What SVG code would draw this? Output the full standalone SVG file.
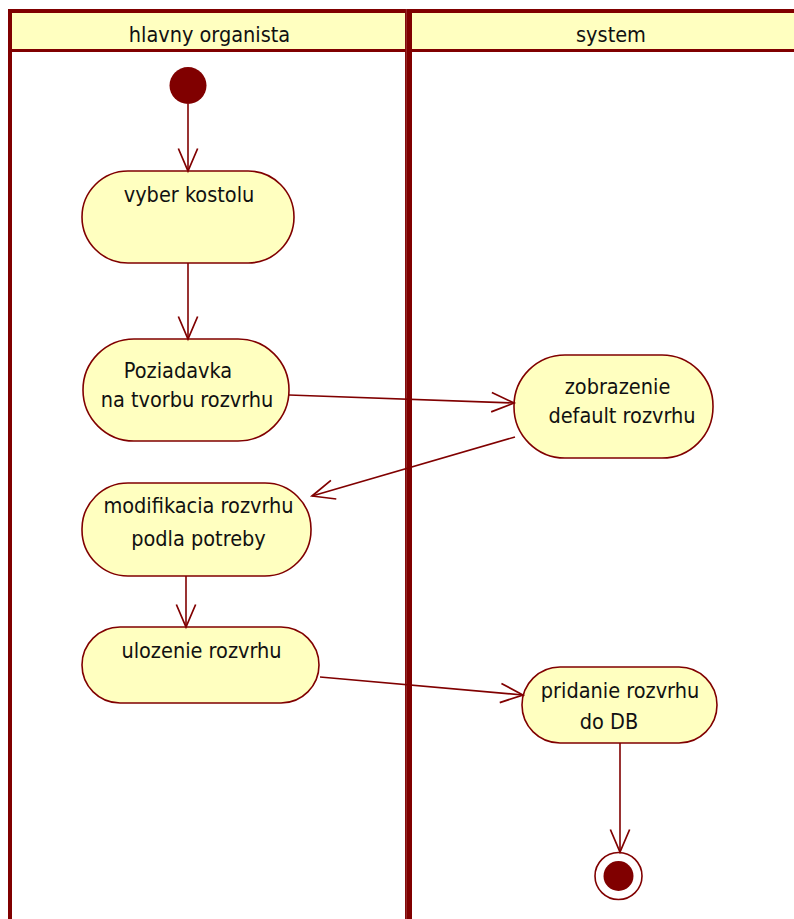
<svg xmlns="http://www.w3.org/2000/svg" width="794" height="919" viewBox="0 0 794 919">
<style>
.lane{stroke:#800000;fill:none}
.hdr{fill:#FFFFC0}
.node rect{fill:#FFFFC0;stroke:#800000;stroke-width:1.6}
text{font-family:"DejaVu Sans Condensed","DejaVu Sans",sans-serif;font-size:21.5px;fill:#111;text-anchor:middle}
.conn line{stroke:#800000;stroke-width:1.6;marker-end:url(#arr)}
</style>
<defs>
<marker id="arr" markerUnits="userSpaceOnUse" markerWidth="30" markerHeight="30" viewBox="-25 -12 28 24" refX="0" refY="0" orient="auto">
<path d="M-21,-9 L0,0 L-21,9" fill="none" stroke="#800000" stroke-width="1.6"/>
</marker>
</defs>
<rect width="794" height="919" fill="#fff"/>
<g id="lanes">
<rect class="hdr" x="10" y="13" width="790" height="36"/>
<line class="lane" x1="8" y1="11" x2="800" y2="11" stroke-width="4"/>
<line class="lane" x1="8" y1="50.5" x2="800" y2="50.5" stroke-width="3"/>
<line class="lane" x1="10" y1="9" x2="10" y2="919" stroke-width="4"/>
<line class="lane" x1="408.5" y1="9" x2="408.5" y2="919" stroke-width="7"/>
<line x1="406.3" y1="9" x2="406.3" y2="919" stroke="#a04040" stroke-width="0.8"/>
<text id="lane1" x="209.5" y="42">hlavny organista</text>
<text id="lane2" x="611" y="42">system</text>
</g>
<g id="start"><circle cx="188" cy="85.5" r="18.5" fill="#800000"/></g>
<g id="vyber" class="node"><rect x="82" y="171" width="212" height="92" rx="46"/><text x="189" y="202">vyber kostolu</text></g>
<g id="poziadavka" class="node"><rect x="83" y="339" width="206" height="102" rx="51"/><text x="178" y="378">Poziadavka</text><text x="187" y="407">na tvorbu rozvrhu</text></g>
<g id="zobrazenie" class="node"><rect x="514" y="355" width="199" height="103" rx="51"/><text x="617.5" y="394">zobrazenie</text><text x="622" y="423">default rozvrhu</text></g>
<g id="modifikacia" class="node"><rect x="82" y="483" width="229" height="93" rx="46"/><text x="198.5" y="513">modifikacia rozvrhu</text><text x="198.5" y="546">podla potreby</text></g>
<g id="ulozenie" class="node"><rect x="82" y="627" width="237" height="76" rx="38"/><text x="201.5" y="658">ulozenie rozvrhu</text></g>
<g id="pridanie" class="node"><rect x="522" y="667" width="195" height="76" rx="38"/><text x="620" y="698">pridanie rozvrhu</text><text x="609" y="729">do DB</text></g>
<g id="end"><circle cx="618.5" cy="876" r="23.5" fill="#fff" stroke="#800000" stroke-width="1.6"/><circle cx="618.5" cy="876" r="15" fill="#800000"/></g>
<g id="connectors" class="conn">
<line x1="188" y1="104" x2="188" y2="171"/>
<line x1="188" y1="263" x2="188" y2="339"/>
<line x1="289" y1="395" x2="514" y2="403"/>
<line x1="515" y1="437" x2="312" y2="496"/>
<line x1="186" y1="576" x2="186" y2="627"/>
<line x1="320" y1="677" x2="523" y2="695"/>
<line x1="620" y1="743" x2="620" y2="852"/>
</g>
</svg>
